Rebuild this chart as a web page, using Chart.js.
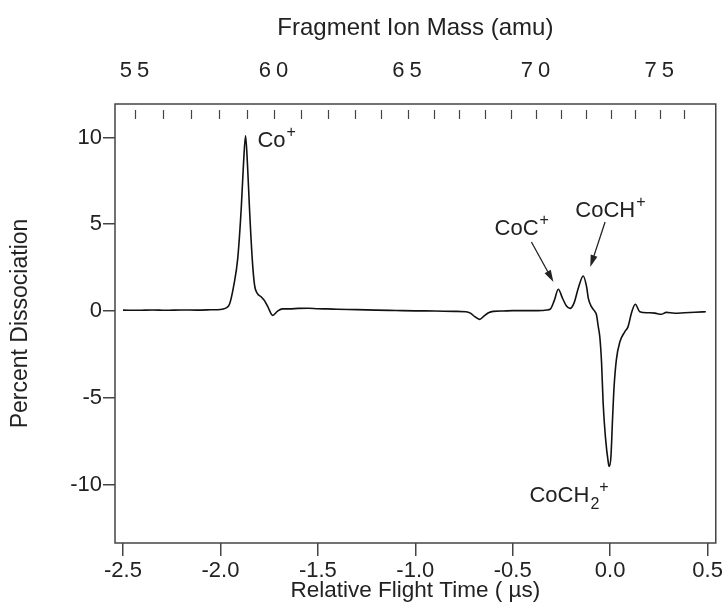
<!DOCTYPE html>
<html>
<head>
<meta charset="utf-8">
<title>Percent Dissociation</title>
<script src="https://cdn.jsdelivr.net/npm/chart.js@4.4.1/dist/chart.umd.min.js"></script>
<style>
  html, body { margin: 0; padding: 0; background: #fff; }
  #wrap { width: 725px; height: 603px; }
</style>
</head>
<body>
<div id="wrap"><canvas id="myChart" width="725" height="603"></canvas></div>
<script>
// trace: relative flight time (us) vs percent dissociation
var flightTime = [
    -2.50, -2.42, -2.35, -2.28, -2.20, -2.12, -2.05, -2.00, -1.985, -1.970,
    -1.953, -1.931, -1.911, -1.893, -1.881, -1.871, -1.861, -1.851, -1.837, -1.825,
    -1.810, -1.791, -1.774, -1.757, -1.732, -1.708, -1.682, -1.646, -1.60, -1.55,
    -1.50, -1.45, -1.40, -1.30, -1.20, -1.10, -1.00, -0.90, -0.80, -0.74,
    -0.717, -0.695, -0.670, -0.648, -0.624, -0.60, -0.55, -0.50, -0.45, -0.40,
    -0.35, -0.325, -0.308, -0.287, -0.266, -0.245, -0.225, -0.206, -0.184, -0.164,
    -0.138, -0.121, -0.112, -0.096, -0.078, -0.070, -0.061, -0.053, -0.044, -0.036,
    -0.024, -0.010, -0.005, 0.004, 0.012, 0.020, 0.032, 0.050, 0.075, 0.092,
    0.109, 0.129, 0.152, 0.194, 0.230, 0.262, 0.288, 0.331, 0.382, 0.435,
    0.491
];
var percentDiss = [
    0.05, 0.04, 0.06, 0.04, 0.06, 0.05, 0.07, 0.09, 0.12, 0.18,
    0.40, 1.50, 3.05, 5.95, 8.60, 10.1, 8.40, 5.95, 3.05, 1.50,
    1.00, 0.82, 0.60, 0.25, -0.25, -0.02, 0.12, 0.12, 0.15, 0.16,
    0.13, 0.12, 0.10, 0.08, 0.05, 0.03, 0.01, 0.00, -0.02, -0.04,
    -0.12, -0.32, -0.48, -0.30, -0.10, -0.02, 0.00, 0.02, 0.02, 0.02,
    0.03, 0.06, 0.10, 0.60, 1.25, 0.75, 0.30, 0.15, 0.50, 1.30,
    2.02, 1.40, 0.73, 0.25, -0.04, -0.23, -0.90, -1.50, -3.00, -5.30,
    -7.30, -8.70, -8.96, -8.40, -6.30, -4.40, -2.80, -1.77, -1.20, -0.90,
    -0.13, 0.39, -0.04, -0.10, -0.12, -0.19, -0.08, -0.13, -0.10, -0.07,
    -0.04
];

var timeTicks = [-2.5, -2.0, -1.5, -1.0, -0.5, 0.0, 0.5];
var percentTicks = [-10, -5, 0, 5, 10];
var massLabels = [55, 60, 65, 70, 75];
var massMarks = [55, 56, 57, 58, 59, 60, 61, 62, 63, 64, 65, 66, 67, 68, 69, 70, 71, 72, 73, 74, 75, 76];

// flight time goes with sqrt(mass); calibration for the top axis
var massA = 2.1653, massB = -18.497;
function massToTime(m) { return massA * Math.sqrt(m) + massB; }

var peakLabels = [
    { text: 'Co', sup: '+', x: -1.810, y: 9.45 },
    { text: 'CoC', sup: '+', x: -0.593, y: 4.38 },
    { text: 'CoCH', sup: '+', x: -0.179, y: 5.42 },
    { text: 'CoCH', sub: '2', sup: '+', x: -0.414, y: -11.0 }
];
var arrows = [
    { from: [-0.404, 3.98], to: [-0.291, 1.67] },
    { from: [-0.026, 5.13], to: [-0.102, 2.54] }
];

var fontFamily = '"Liberation Sans", Arial, Helvetica, sans-serif';
Chart.defaults.font.family = fontFamily;
Chart.defaults.color = '#222';

var frame = {
    id: 'frame',
    beforeDraw: function (chart) {
        // spaced digits on the mass axis, like the original
        var s = chart.scales.x2;
        if (s && !s._spaced) {
            var orig = s.drawLabels.bind(s);
            s.drawLabels = function (area) {
                var c = chart.ctx;
                c.save();
                c.letterSpacing = '5px';
                orig(area);
                c.restore();
            };
            s._spaced = true;
        }
    },
    afterDraw: function (chart) {
        var ctx = chart.ctx, a = chart.chartArea;
        var xs = chart.scales.x, ys = chart.scales.y, top = chart.scales.x2;
        ctx.save();
        ctx.strokeStyle = '#444';
        ctx.lineWidth = 1.5;
        ctx.strokeRect(a.left, a.top, a.right - a.left, a.bottom - a.top);

        ctx.beginPath();
        massMarks.forEach(function (m) {
            var px = Math.round(top.getPixelForValue(massToTime(m))) + 0.5;
            ctx.moveTo(px, a.top + 6);
            ctx.lineTo(px, a.top + 15);
        });
        ctx.lineWidth = 1.2;
        ctx.stroke();

        ctx.fillStyle = '#222';
        ctx.textAlign = 'left';
        ctx.textBaseline = 'alphabetic';
        peakLabels.forEach(function (p) {
            var px = xs.getPixelForValue(p.x), py = ys.getPixelForValue(p.y);
            ctx.font = '22px ' + fontFamily;
            ctx.fillText(p.text, px, py);
            px += ctx.measureText(p.text).width + 1;
            ctx.font = '16px ' + fontFamily;
            if (p.sub) {
                ctx.fillText(p.sub, px, py + 7);
                px += ctx.measureText(p.sub).width;
            }
            ctx.fillText(p.sup, px, py - 10);
        });

        ctx.strokeStyle = '#222';
        ctx.lineWidth = 1.3;
        arrows.forEach(function (ar) {
            var x1 = xs.getPixelForValue(ar.from[0]), y1 = ys.getPixelForValue(ar.from[1]);
            var x2 = xs.getPixelForValue(ar.to[0]), y2 = ys.getPixelForValue(ar.to[1]);
            var ang = Math.atan2(y2 - y1, x2 - x1);
            ctx.beginPath();
            ctx.moveTo(x1, y1);
            ctx.lineTo(x2 - 8 * Math.cos(ang), y2 - 8 * Math.sin(ang));
            ctx.stroke();
            ctx.beginPath();
            ctx.moveTo(x2, y2);
            ctx.lineTo(x2 - 12 * Math.cos(ang) + 3.5 * Math.sin(ang), y2 - 12 * Math.sin(ang) - 3.5 * Math.cos(ang));
            ctx.lineTo(x2 - 12 * Math.cos(ang) - 3.5 * Math.sin(ang), y2 - 12 * Math.sin(ang) + 3.5 * Math.cos(ang));
            ctx.closePath();
            ctx.fill();
        });
        ctx.restore();
    }
};

var points = flightTime.map(function (t, i) {
    return { x: t, y: percentDiss[i] };
});

new Chart(document.getElementById('myChart'), {
    type: 'line',
    data: {
        datasets: [{
            label: 'Percent Dissociation',
            data: points,
            borderColor: '#111',
            borderWidth: 1.6,
            pointRadius: 0,
            fill: false,
            cubicInterpolationMode: 'monotone'
        }]
    },
    options: {
        responsive: false,
        animation: false,
        layout: { padding: { left: 0, right: 7, top: 0, bottom: 0 } },
        plugins: {
            legend: { display: false },
            tooltip: { enabled: false }
        },
        scales: {
            x: {
                type: 'linear',
                position: 'bottom',
                min: -2.541,
                max: 0.542,
                afterBuildTicks: function (s) {
                    s.ticks = timeTicks.map(function (v) { return { value: v }; });
                },
                afterFit: function (s) { s.height = 60; },
                border: { display: false },
                grid: { drawOnChartArea: false, tickLength: 13, color: '#444', lineWidth: 1.5 },
                ticks: {
                    padding: 2,
                    color: '#222',
                    font: { size: 22 },
                    maxRotation: 0,
                    autoSkip: false,
                    callback: function (v) { return v.toFixed(1); }
                },
                title: {
                    display: true,
                    text: 'Relative Flight Time ( µs)',
                    color: '#222',
                    font: { size: 22.5, lineHeight: 1 },
                    padding: { top: 0, bottom: 1 }
                }
            },
            x2: {
                type: 'linear',
                position: 'top',
                min: -2.541,
                max: 0.542,
                afterBuildTicks: function (s) {
                    s.ticks = massLabels.map(function (m) { return { value: massToTime(m) }; });
                },
                afterFit: function (s) { s.height = 104; },
                border: { display: false },
                grid: { display: false },
                ticks: {
                    padding: 12,
                    labelOffset: 2,
                    color: '#222',
                    font: { size: 22 },
                    maxRotation: 0,
                    autoSkip: false,
                    callback: function (v, i) { return String(massLabels[i]); }
                },
                title: {
                    display: true,
                    text: 'Fragment Ion Mass (amu)',
                    color: '#222',
                    font: { size: 24, lineHeight: 1 },
                    padding: { top: 16, bottom: 0 }
                }
            },
            y: {
                type: 'linear',
                min: -13.37,
                max: 11.93,
                afterBuildTicks: function (s) {
                    s.ticks = percentTicks.map(function (v) { return { value: v }; });
                },
                afterFit: function (s) { s.width = 115; },
                border: { display: false },
                grid: { drawOnChartArea: false, tickLength: 12, color: '#444', lineWidth: 1.5 },
                ticks: {
                    padding: 1,
                    color: '#222',
                    font: { size: 22 },
                    callback: function (v) { return String(v); }
                },
                title: {
                    display: true,
                    text: 'Percent Dissociation',
                    color: '#222',
                    font: { size: 23, lineHeight: 1 },
                    padding: { top: 9, bottom: 0 }
                }
            }
        }
    },
    plugins: [frame]
});
</script>
</body>
</html>
